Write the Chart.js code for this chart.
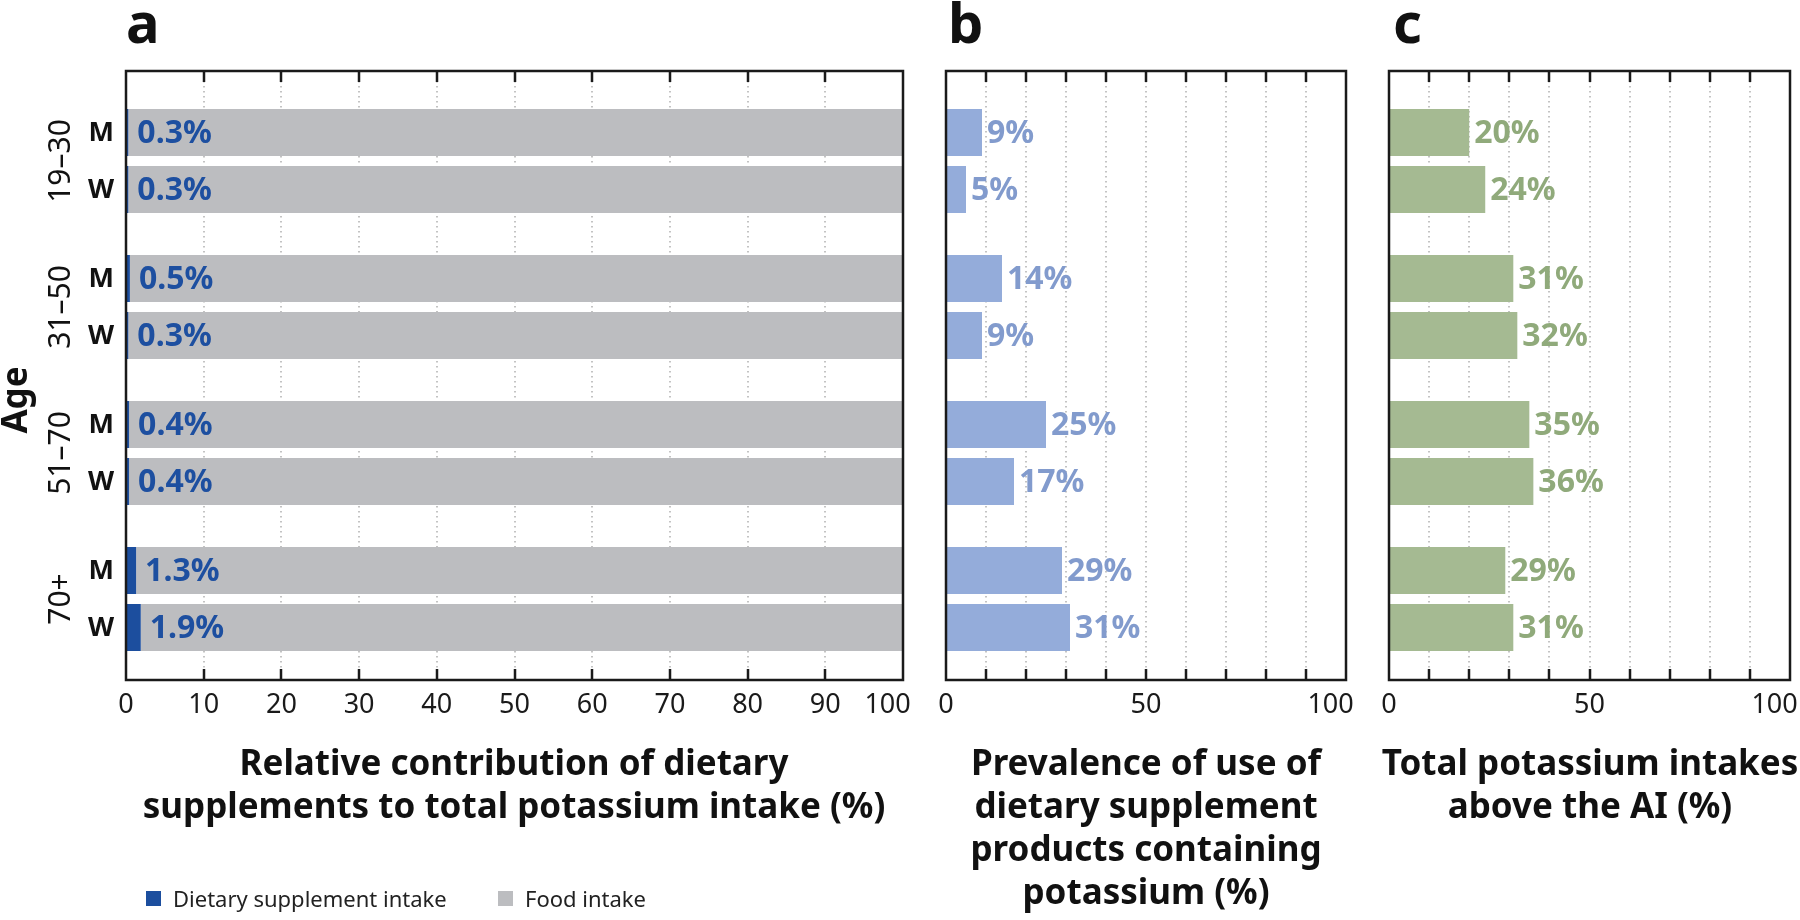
<!DOCTYPE html>
<html>
<head>
<meta charset="utf-8">
<script src="https://cdn.jsdelivr.net/npm/chart.js@4.4.1/dist/chart.umd.min.js"></script>
<style>
  html, body { margin:0; padding:0; background:#fff; width:1800px; height:920px; overflow:hidden;
    font-family:"Noto Sans", sans-serif; }
  .box { position:absolute; top:0; height:920px; }
  .letter { position:absolute; top:-7px; font-weight:700; font-size:56px; line-height:56px; color:#111; }
  .title { position:absolute; top:740px; font-weight:700; font-size:35px; line-height:43px;
    text-align:center; color:#111; transform:translateX(-50%); white-space:nowrap; }
  .legend { position:absolute; top:884px; font-size:22px; line-height:28px; color:#222;
    display:flex; align-items:center; white-space:nowrap; }
  .sw { display:inline-block; width:15px; height:15px; margin-right:12px; }
</style>
</head>
<body>
<div class="box" style="left:0;width:930px"><canvas id="ca"></canvas></div>
<div class="box" style="left:910px;width:460px"><canvas id="cb"></canvas></div>
<div class="box" style="left:1370px;width:430px"><canvas id="cc"></canvas></div>

<div class="letter" style="left:126px">a</div>
<div class="letter" style="left:948px">b</div>
<div class="letter" style="left:1393px">c</div>

<div class="title" style="left:514px">Relative contribution of dietary<br>supplements to total potassium intake (%)</div>
<div class="title" style="left:1146px">Prevalence of use of<br>dietary supplement<br>products containing<br>potassium (%)</div>
<div class="title" style="left:1590px">Total potassium intakes<br>above the AI (%)</div>

<div class="legend" style="left:146px"><span class="sw" style="background:#1c4e9e"></span>Dietary supplement intake</div>
<div class="legend" style="left:498px"><span class="sw" style="background:#bcbdc0"></span>Food intake</div>

<script>
// ---------------- DATA ----------------
const ageGroups = ['19–30', '31–50', '51–70', '70+'];
const sexLabels = ['M', 'W'];
const supplementM = [0.3, 0.5, 0.4, 1.3];
const supplementW = [0.3, 0.3, 0.4, 1.9];
const foodM = [99.7, 99.5, 99.6, 98.7];
const foodW = [99.7, 99.7, 99.6, 98.1];
const prevalenceM = [9, 14, 25, 29];
const prevalenceW = [5, 9, 17, 31];
const aboveAIM = [20, 31, 35, 29];
const aboveAIW = [24, 32, 36, 31];
const labeledTicksBC = [0, 50, 100];

// ---------------- STYLE ----------------
const FONT = '"Noto Sans", sans-serif';
const C = {
  supp: '#1c4e9e', food: '#bcbdc0', suppText: '#1d4fa0',
  prev: '#94acda', prevText: '#829bcd',
  ai: '#a5ba92', aiText: '#90aa7b',
  ink: '#1a1a1a', grid: '#b0b0b0'
};

const groupIndex = ageGroups.map((_, i) => i);

function yScaleOpts(stacked) {
  return {
    type: 'linear', reverse: true, display: false, offset: false,
    min: -0.6164, max: 3.5548, stacked: stacked,
    grid: { display: false },
    afterBuildTicks: (s) => { s.ticks = groupIndex.map(v => ({ value: v })); }
  };
}

function xScaleOpts(labelFn, stacked) {
  return {
    type: 'linear', min: 0, max: 100, stacked: stacked,
    grid: { display: false, drawTicks: false, tickLength: 0 },
    border: { display: false },
    ticks: {
      stepSize: 10, autoSkip: false, maxRotation: 0, padding: 9,
      color: C.ink, font: { family: FONT, size: 27 },
      callback: labelFn
    },
    afterFit: (s) => { s.height = 60; s.paddingLeft = 0; s.paddingRight = 0; }
  };
}

function drawGrid(chart) {
  const { ctx, chartArea: a } = chart;
  const xs = chart.scales.x;
  ctx.save();
  ctx.strokeStyle = C.grid; ctx.lineWidth = 1.5; ctx.setLineDash([1.5, 3.5]);
  for (const t of xs.ticks) {
    if (t.value <= xs.min || t.value >= xs.max) continue;
    const px = Math.round(xs.getPixelForValue(t.value));
    ctx.beginPath(); ctx.moveTo(px, a.top); ctx.lineTo(px, a.bottom); ctx.stroke();
  }
  ctx.restore();
}

function drawFrame(chart) {
  const { ctx, chartArea: a } = chart;
  const xs = chart.scales.x;
  ctx.save();
  ctx.strokeStyle = C.ink; ctx.lineWidth = 2.5; ctx.setLineDash([]);
  for (const t of xs.ticks) {
    if (t.value <= xs.min || t.value >= xs.max) continue;
    const px = Math.round(xs.getPixelForValue(t.value));
    ctx.beginPath();
    ctx.moveTo(px, a.top); ctx.lineTo(px, a.top + 11);
    ctx.moveTo(px, a.bottom); ctx.lineTo(px, a.bottom - 11);
    ctx.stroke();
  }
  ctx.strokeRect(a.left, a.top, a.right - a.left, a.bottom - a.top);
  ctx.restore();
}

function drawValueLabels(chart, dsIdx, values, color, fmt, gap) {
  const { ctx } = chart;
  ctx.save();
  ctx.fillStyle = color; ctx.font = '700 32px ' + FONT;
  ctx.textAlign = 'left'; ctx.textBaseline = 'middle';
  dsIdx.forEach((di, k) => {
    const meta = chart.getDatasetMeta(di);
    meta.data.forEach((el, i) => {
      ctx.fillText(fmt(values[k][i]), el.x + gap, el.y + 1);
    });
  });
  ctx.restore();
}

// ---------------- PANEL A ----------------
const panelAPlugin = {
  id: 'panelA',
  beforeDatasetsDraw(chart) { drawGrid(chart); },
  afterDatasetsDraw(chart) {
    drawFrame(chart);
    drawValueLabels(chart, [0, 2], [supplementM, supplementW], C.suppText, v => v.toFixed(1) + '%', 9);
    const { ctx } = chart;
    const ys = chart.scales.y;
    ctx.save();
    ctx.fillStyle = '#111';
    ctx.font = '700 27px ' + FONT; ctx.textAlign = 'right'; ctx.textBaseline = 'middle';
    [0, 2].forEach((di, k) => {
      chart.getDatasetMeta(di).data.forEach(el => ctx.fillText(sexLabels[k], 114, el.y + 1));
    });
    ctx.font = '400 30px ' + FONT; ctx.textAlign = 'center'; ctx.textBaseline = 'middle';
    ageGroups.forEach((g, i) => {
      const py = ys.getPixelForValue(i);
      ctx.save(); ctx.translate(61, py); ctx.rotate(-Math.PI / 2); ctx.fillText(g, 0, 0); ctx.restore();
    });
    ctx.font = '700 35px ' + FONT;
    ctx.save(); ctx.translate(17, 400); ctx.rotate(-Math.PI / 2); ctx.fillText('Age', 0, 0); ctx.restore();
    ctx.restore();
  }
};

const barGeom = { categoryPercentage: 0.7808, barPercentage: 0.8246 };
const label100 = v => (v === 100 ? '100\u2007\u2007' : String(v));

new Chart(document.getElementById('ca'), {
  type: 'bar',
  data: {
    labels: groupIndex,
    datasets: [
      { label: 'Dietary supplement intake', stack: 'M', data: supplementM, backgroundColor: C.supp, ...barGeom },
      { label: 'Food intake', stack: 'M', data: foodM, backgroundColor: C.food, ...barGeom },
      { label: 'Dietary supplement intake', stack: 'W', data: supplementW, backgroundColor: C.supp, ...barGeom },
      { label: 'Food intake', stack: 'W', data: foodW, backgroundColor: C.food, ...barGeom }
    ]
  },
  options: {
    indexAxis: 'y', responsive: true, maintainAspectRatio: false, animation: false, events: [],
    layout: { padding: { left: 126, right: 27, top: 71, bottom: 180 } },
    scales: { x: xScaleOpts(label100, true), y: yScaleOpts(true) },
    plugins: { legend: { display: false }, tooltip: { enabled: false } }
  },
  plugins: [panelAPlugin]
});

// ---------------- PANELS B, C ----------------
function makeSimplePanel(id, mVals, wVals, barColor, textColor, pad) {
  const plug = {
    id: 'panel_' + id,
    beforeDatasetsDraw(chart) { drawGrid(chart); },
    afterDatasetsDraw(chart) {
      drawFrame(chart);
      drawValueLabels(chart, [0, 1], [mVals, wVals], textColor, v => v + '%', 5);
    }
  };
  new Chart(document.getElementById(id), {
    type: 'bar',
    data: {
      labels: groupIndex,
      datasets: [
        { label: 'M', data: mVals, backgroundColor: barColor, ...barGeom },
        { label: 'W', data: wVals, backgroundColor: barColor, ...barGeom }
      ]
    },
    options: {
      indexAxis: 'y', responsive: true, maintainAspectRatio: false, animation: false, events: [],
      layout: { padding: pad },
      scales: {
        x: xScaleOpts(v => (labeledTicksBC.includes(v) ? label100(v) : ''), false),
        y: yScaleOpts(false)
      },
      plugins: { legend: { display: false }, tooltip: { enabled: false } }
    },
    plugins: [plug]
  });
}

makeSimplePanel('cb', prevalenceM, prevalenceW, C.prev, C.prevText, { left: 36, right: 24, top: 71, bottom: 180 });
makeSimplePanel('cc', aboveAIM, aboveAIW, C.ai, C.aiText, { left: 19, right: 10, top: 71, bottom: 180 });
</script>
</body>
</html>
